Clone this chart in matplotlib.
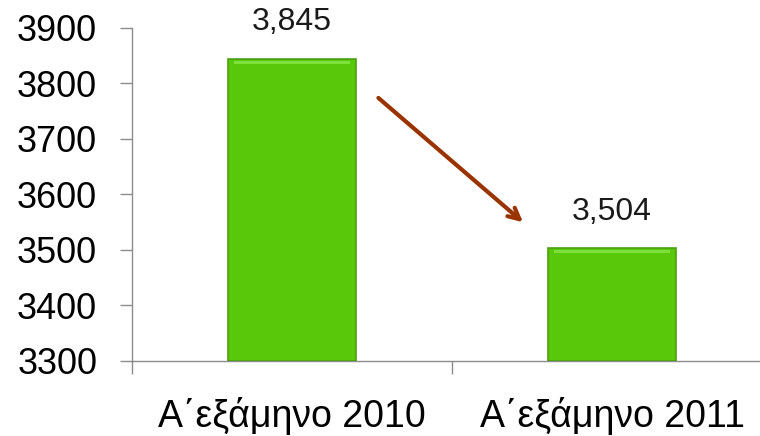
import matplotlib
matplotlib.use("Agg")
import matplotlib.pyplot as plt
from matplotlib.ticker import FixedLocator

categories = ["Α΄εξάμηνο 2010", "Α΄εξάμηνο 2011"]
values = [3845, 3504]
value_labels = ["3,845", "3,504"]
y_ticks = [3300, 3400, 3500, 3600, 3700, 3800, 3900]

GREEN = "#5ac80a"
EDGE = "#4b9f12"
AXIS = "#8c8c8c"
ARROW = "#993300"

plt.rcParams["font.family"] = ["Liberation Sans", "DejaVu Sans"]

fig = plt.figure(figsize=(7.6, 4.36), dpi=100)
ax = fig.add_axes([132 / 760, 75 / 436, 640 / 760, 333 / 436])

x = list(range(len(categories)))
bars = ax.bar(x, [v - y_ticks[0] for v in values], bottom=y_ticks[0], width=0.4,
              color=GREEN, edgecolor=EDGE, linewidth=1.2, zorder=3)
# light bevel along the top of each bar
for b in bars:
    ax.bar(b.get_x() + b.get_width() / 2, 6, bottom=b.get_y() + b.get_height() - 10,
           width=b.get_width() * 0.9, color="#7ee03a", linewidth=0, zorder=4)

for xi, v, lab in zip(x, values, value_labels):
    ax.text(xi, v + 38, lab, ha="center", va="bottom", fontsize=23, color="#1a1a1a")

ax.set_xlim(-0.5, len(categories) - 0.5)
ax.set_ylim(y_ticks[0], y_ticks[-1])
ax.set_yticks(y_ticks)
ax.tick_params(axis="y", length=9, width=1, color=AXIS, labelsize=26, pad=16)

ax.set_xticks(x)
ax.set_xticklabels(categories)
ax.xaxis.set_minor_locator(FixedLocator([-0.5, 0.5, 1.5]))
ax.tick_params(axis="x", which="major", length=0, labelsize=27, pad=26)
ax.tick_params(axis="x", which="minor", length=9, width=1, color=AXIS)

for side in ("top", "right"):
    ax.spines[side].set_visible(False)
for side in ("left", "bottom"):
    ax.spines[side].set_color(AXIS)
    ax.spines[side].set_linewidth(1)

# trend arrow from the first bar down to the second
ax.annotate("", xy=(0.722, 3550), xytext=(0.27, 3774),
            arrowprops=dict(arrowstyle="->,head_length=0.8,head_width=0.4", color=ARROW,
                            lw=3, shrinkA=0, shrinkB=0))

fig.savefig("out.png", dpi=100, facecolor="white")
